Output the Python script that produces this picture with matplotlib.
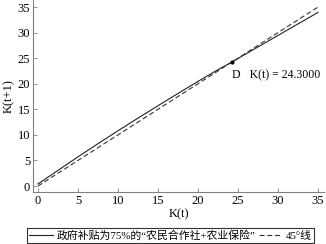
import numpy as np
import matplotlib
matplotlib.use('Agg')
import matplotlib.pyplot as plt

plt.rcParams['font.family'] = ['Liberation Serif', 'Noto Sans CJK SC', 'DejaVu Sans']
plt.rcParams['axes.unicode_minus'] = False

# K(t) and K(t+1)
K_T = [0, 2.5, 5, 7.5, 10, 12.5, 15, 17.5, 20, 22.5, 24.3, 27.5, 30, 32.5, 35]
K_NEXT = [0.4, 3.05, 5.7, 8.28, 10.8, 13.28, 15.7, 18.1, 20.45, 22.75, 24.3,
          27.2, 29.45, 31.7, 33.95]
LINE_45 = [0, 35]
D_POINT = 24.3

TICKS = list(range(0, 36, 5))
SERIES_LABEL = '政府补贴为75%的“农民合作社+农业保险”'
LINE_LABEL = '45°线'

fig = plt.figure(figsize=(3.26, 2.44), dpi=100)
ax = fig.add_axes([0.101, 0.213, 0.893, 0.787])

ax.plot(K_T, K_NEXT, '-', color='#222222', lw=0.8, label=SERIES_LABEL)
ax.plot(LINE_45, LINE_45, '--', color='#333333', lw=0.8, dashes=(4.5, 2.5), label=LINE_LABEL)
ax.plot([D_POINT], [D_POINT], 'o', color='black', ms=2)
ax.text(D_POINT, D_POINT - 2.6, 'D   K(t) = %.4f' % D_POINT,
        fontsize=8.5, ha='left', va='center')

ax.set_xlim(-0.625, 35.75)
ax.set_ylim(-1.17, 36.37)
ax.set_xticks(TICKS)
ax.set_yticks(TICKS)
ax.set_xlabel('K(t)', fontsize=9, labelpad=1)
ax.set_ylabel('K(t+1)', fontsize=9, labelpad=2)

for side in ('top', 'right'):
    ax.spines[side].set_visible(False)
for side in ('left', 'bottom'):
    ax.spines[side].set_color('#808080')
    ax.spines[side].set_linewidth(0.8)
ax.tick_params(direction='in', length=3, width=0.6, color='#808080',
               labelsize=9, pad=2)

leg = fig.legend(loc='lower center', bbox_to_anchor=(0.523, 0.004), ncol=2,
                 fontsize=7.8, frameon=True, fancybox=False, borderaxespad=0,
                 borderpad=0.2, handlelength=2.2, handletextpad=0.3,
                 columnspacing=0.3)
leg.get_frame().set_edgecolor('black')
leg.get_frame().set_linewidth(0.8)

fig.savefig('out.png', dpi=100)
